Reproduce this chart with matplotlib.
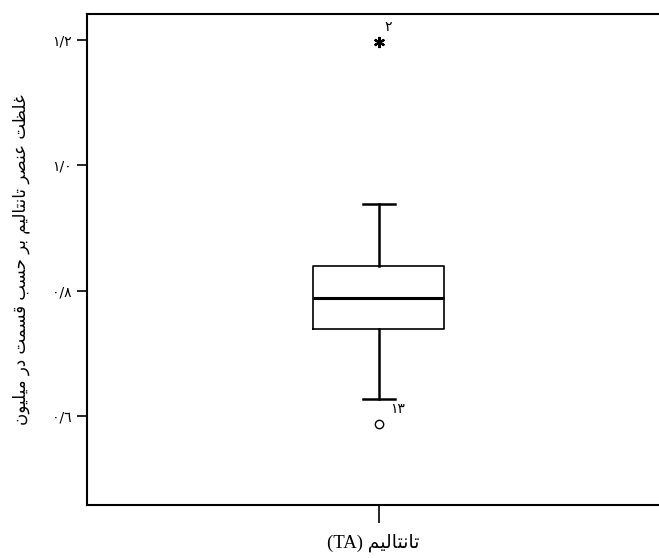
import matplotlib
matplotlib.use('Agg')
import matplotlib.pyplot as plt

# boxplot stats
q1 = 0.739
median = 0.789
q3 = 0.839
whisker_lo = 0.627
whisker_hi = 0.939
outlier_vals = [0.587]
outlier_ids = ['١٣']
extreme_vals = [1.196]
extreme_ids = ['٢']

yticks = [0.6, 0.8, 1.0, 1.2]
ytick_labels = ['٠/٦', '٠/٨', '١/٠', '١/٢']
ylabel_fa = 'غلظت عنصر تانتالیم بر حسب قسمت در میلیون'
xlabel_fa = 'تانتالیم'
xlabel_lat = '(TA)'

# simple arabic shaping (matplotlib has no bidi / joining support)
FORMS = {  # isolated, final, initial, medial
    'ا': (0xFE8D, 0xFE8E, None, None),
    'ب': (0xFE8F, 0xFE90, 0xFE91, 0xFE92),
    'ت': (0xFE95, 0xFE96, 0xFE97, 0xFE98),
    'ح': (0xFEA1, 0xFEA2, 0xFEA3, 0xFEA4),
    'د': (0xFEA9, 0xFEAA, None, None),
    'ر': (0xFEAD, 0xFEAE, None, None),
    'س': (0xFEB1, 0xFEB2, 0xFEB3, 0xFEB4),
    'ص': (0xFEB9, 0xFEBA, 0xFEBB, 0xFEBC),
    'ظ': (0xFEC5, 0xFEC6, 0xFEC7, 0xFEC8),
    'ع': (0xFEC9, 0xFECA, 0xFECB, 0xFECC),
    'غ': (0xFECD, 0xFECE, 0xFECF, 0xFED0),
    'ق': (0xFED5, 0xFED6, 0xFED7, 0xFED8),
    'ل': (0xFEDD, 0xFEDE, 0xFEDF, 0xFEE0),
    'م': (0xFEE1, 0xFEE2, 0xFEE3, 0xFEE4),
    'ن': (0xFEE5, 0xFEE6, 0xFEE7, 0xFEE8),
    'و': (0xFEED, 0xFEEE, None, None),
    'ی': (0xFEEF, 0xFEF0, 0xFEF3, 0xFEF4),
}


def rtl(text):
    out = []
    for i, ch in enumerate(text):
        if ch not in FORMS:
            out.append(ch)
            continue
        iso, fin, ini, med = FORMS[ch]
        prev = text[i - 1] if i > 0 else ''
        nxt = text[i + 1] if i + 1 < len(text) else ''
        p = prev in FORMS and FORMS[prev][2] is not None
        n = nxt in FORMS and ini is not None
        if p and n:
            code = med
        elif p:
            code = fin
        elif n:
            code = ini
        else:
            code = iso
        out.append(chr(code))
    return ''.join(out)[::-1]


fa = ['DejaVu Sans']
mixed = ['Liberation Serif', 'DejaVu Sans']

fig = plt.figure(figsize=(6.59, 5.58), dpi=100)
ax = fig.add_axes([0.132, 0.095, 0.868, 0.880])

stats = [dict(med=median, q1=q1, q3=q3, whislo=whisker_lo, whishi=whisker_hi, fliers=[])]
ax.bxp(stats, positions=[1], widths=0.449, capwidths=0.11, showfliers=False,
       boxprops=dict(color='black', linewidth=1.2),
       medianprops=dict(color='black', linewidth=2.2),
       whiskerprops=dict(color='black', linewidth=1.8),
       capprops=dict(color='black', linewidth=1.8))

ax.plot([1] * len(outlier_vals), outlier_vals, 'o', mfc='white', mec='black', ms=6, mew=1)
ax.plot([1] * len(extreme_vals), extreme_vals, marker=(6, 2, 0), ls='none',
        color='black', ms=8, mew=1.6)
for v, t in zip(outlier_vals, outlier_ids):
    ax.annotate(t, (1, v), xytext=(8, 8), textcoords='offset points', fontsize=10, family=fa)
for v, t in zip(extreme_vals, extreme_ids):
    ax.annotate(t, (1, v), xytext=(4, 8), textcoords='offset points', fontsize=10, family=fa)

ax.set_xlim(0, 1.96)
ax.set_ylim(0.458, 1.2415)
ax.set_yticks(yticks)
ax.set_yticklabels(ytick_labels, family=fa, fontsize=10)
ax.set_xticks([1])
ax.set_xticklabels([''])
ax.tick_params(axis='y', length=7.5, width=1.2)
ax.tick_params(axis='x', length=13, width=1.2)
ax.spines['right'].set_visible(False)
for s in ['left', 'top', 'bottom']:
    ax.spines[s].set_linewidth(1.5)

ax.set_ylabel(rtl(ylabel_fa), family=fa, fontsize=12, labelpad=16)
ax.set_xlabel(xlabel_lat + ' ' + rtl(xlabel_fa), family=mixed, fontsize=13.5, labelpad=4)

fig.savefig('out.png', dpi=100)
